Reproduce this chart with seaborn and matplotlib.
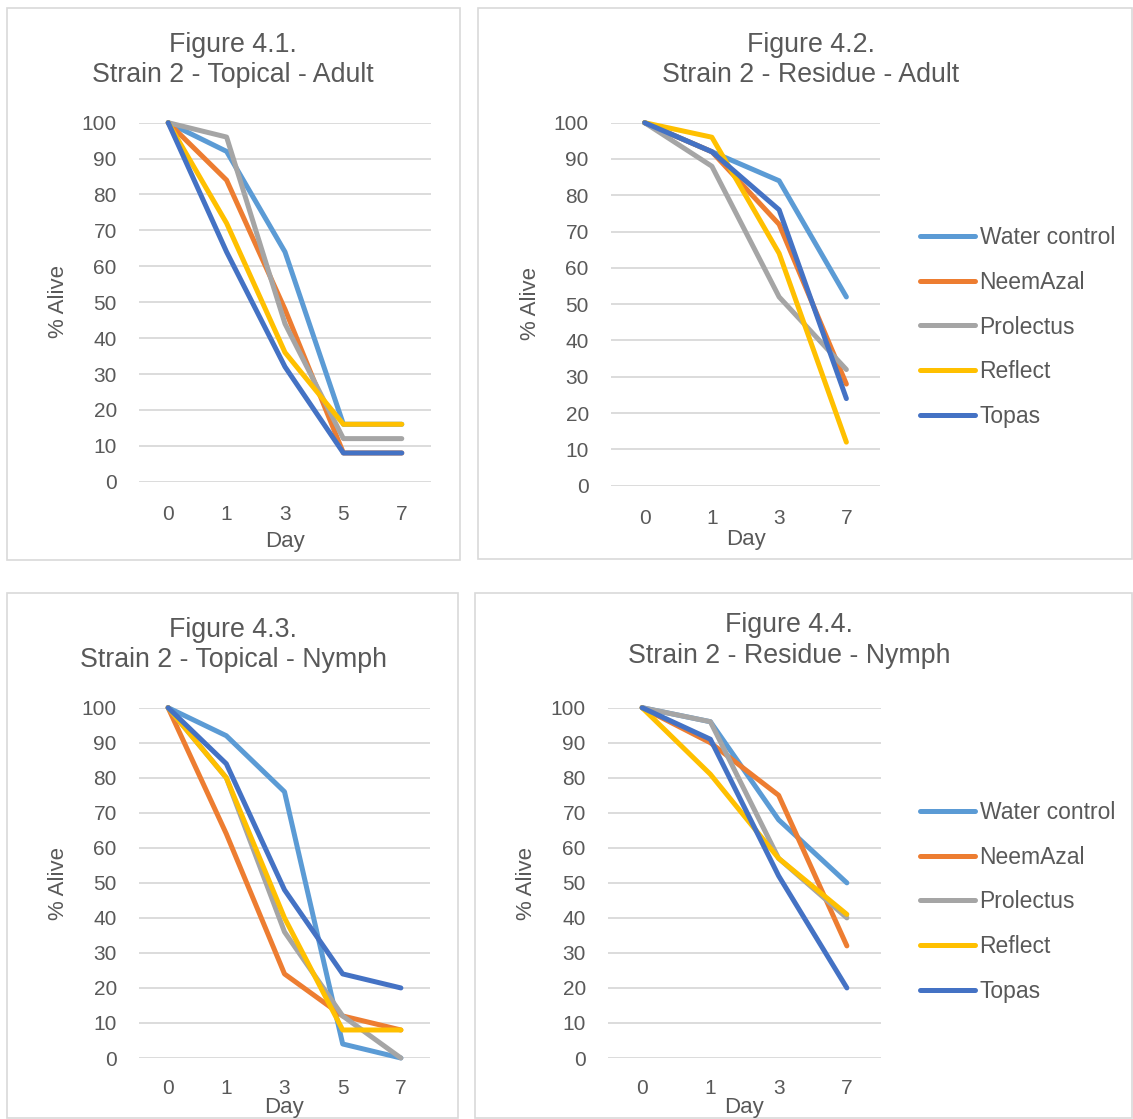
import numpy as np
import pandas as pd
import matplotlib.pyplot as plt
import seaborn as sns
from matplotlib.patches import Rectangle

W, H = 1133, 1119

treatments = ['Water control', 'NeemAzal', 'Prolectus', 'Reflect', 'Topas']
colors = ['#5B9BD5', '#ED7D31', '#A5A5A5', '#FFC000', '#4472C4']

days_topical = ['0', '1', '3', '5', '7']
days_residue = ['0', '1', '3', '7']

# % alive, one row per treatment (same order as `treatments`)
topical_adult = [
    [100, 92, 64, 16, 16],
    [100, 84, 48, 8, 8],
    [100, 96, 44, 12, 12],
    [100, 72, 36, 16, 16],
    [100, 64, 32, 8, 8],
]
residue_adult = [
    [100, 92, 84, 52],
    [100, 92, 72, 28],
    [100, 88, 52, 32],
    [100, 96, 64, 12],
    [100, 92, 76, 24],
]
topical_nymph = [
    [100, 92, 76, 4, 0],
    [100, 64, 24, 12, 8],
    [100, 80, 36, 12, 0],
    [100, 80, 40, 8, 8],
    [100, 84, 48, 24, 20],
]
residue_nymph = [
    [100, 96, 68, 50],
    [100, 90, 75, 32],
    [100, 96, 57, 40],
    [100, 81, 57, 41],
    [100, 91, 52, 20],
]

TXT = '#595959'
GRID = '#D9D9D9'

sns.set_theme(style='white')
plt.rcParams['font.family'] = ['Liberation Sans', 'DejaVu Sans']

fig = plt.figure(figsize=(W / 100, H / 100), dpi=100)


def fx(x):
    return x / W


def fy(y):
    return 1 - y / H


# pixel layout of each chart block
panels = [
    dict(data=topical_adult, days=days_topical, box=(7, 8, 460, 560),
         plot=(139, 122.7, 431, 481.7), title=('Figure 4.1.', 'Strain 2 - Topical - Adult'),
         tpos=(233, 45, 75), ylab=(58, 302), xlab=(285, 542), xpad=16.5, legend=None),
    dict(data=residue_adult, days=days_residue, box=(478, 8, 1132, 559),
         plot=(611, 122.7, 880, 485.7), title=('Figure 4.2.', 'Strain 2 - Residue - Adult'),
         tpos=(811, 45, 75), ylab=(530, 303), xlab=(746, 540), xpad=16.5, legend=(920, 327)),
    dict(data=topical_nymph, days=days_topical, box=(7, 593, 458, 1118),
         plot=(139, 707.7, 430, 1058), title=('Figure 4.3.', 'Strain 2 - Topical - Nymph'),
         tpos=(233, 630, 660), ylab=(58, 884), xlab=(284, 1108), xpad=15, legend=None),
    dict(data=residue_nymph, days=days_residue, box=(475, 593, 1132, 1118),
         plot=(608, 707.7, 881, 1058), title=('Figure 4.4.', 'Strain 2 - Residue - Nymph'),
         tpos=(789, 625, 656), ylab=(526, 884), xlab=(744, 1108), xpad=15, legend=(920, 902)),
]

for p in panels:
    l, t, r, b = p['box']
    fig.add_artist(Rectangle((fx(l), fy(b)), fx(r - l), (b - t) / H,
                             transform=fig.transFigure, fill=False,
                             edgecolor=GRID, linewidth=1.2))

    l, t, r, b = p['plot']
    ax = fig.add_axes([fx(l), fy(b), fx(r - l), (b - t) / H])

    rows = []
    for name, vals in zip(treatments, p['data']):
        for d, v in zip(p['days'], vals):
            rows.append({'Day': d, 'Alive': v, 'Treatment': name})
    df = pd.DataFrame(rows)

    sns.lineplot(data=df, x='Day', y='Alive', hue='Treatment', hue_order=treatments,
                 palette=colors, linewidth=3.6, sort=False, ax=ax,
                 legend=p['legend'] is not None, clip_on=False,
                 solid_capstyle='round', solid_joinstyle='round')

    ax.set_xlim(-0.5, len(p['days']) - 0.5)
    ax.set_ylim(0, 100)
    ax.set_yticks(np.arange(0, 101, 10))
    ax.yaxis.grid(True, color=GRID, linewidth=1.3)
    ax.xaxis.grid(False)
    ax.set_axisbelow(True)
    for s in ax.spines.values():
        s.set_visible(False)
    ax.tick_params(axis='y', length=0, pad=16, labelsize=15, labelcolor=TXT)
    ax.tick_params(axis='x', length=0, pad=p['xpad'], labelsize=15, labelcolor=TXT)
    ax.set_xlabel('')
    ax.set_ylabel('')

    tx, ty1, ty2 = p['tpos']
    fig.text(fx(tx), fy(ty1), p['title'][0], ha='center', va='center', fontsize=19.3, color=TXT)
    fig.text(fx(tx), fy(ty2), p['title'][1], ha='center', va='center', fontsize=19.3, color=TXT)
    fig.text(fx(p['ylab'][0]), fy(p['ylab'][1]), '% Alive', rotation=90,
             ha='center', va='center', fontsize=16, color=TXT)
    fig.text(fx(p['xlab'][0]), fy(p['xlab'][1]), 'Day', ha='center', va='center',
             fontsize=16, color=TXT)

    if p['legend'] is not None:
        lx, ly = p['legend']
        sns.move_legend(ax, 'center left', bbox_to_anchor=(fx(lx), fy(ly)),
                        bbox_transform=fig.transFigure, frameon=False, title=None,
                        fontsize=16.5, labelcolor=TXT, handlelength=2.4,
                        handletextpad=0.2, labelspacing=0.95, borderpad=0,
                        borderaxespad=0)

fig.savefig('out.png', dpi=100, facecolor='white')
